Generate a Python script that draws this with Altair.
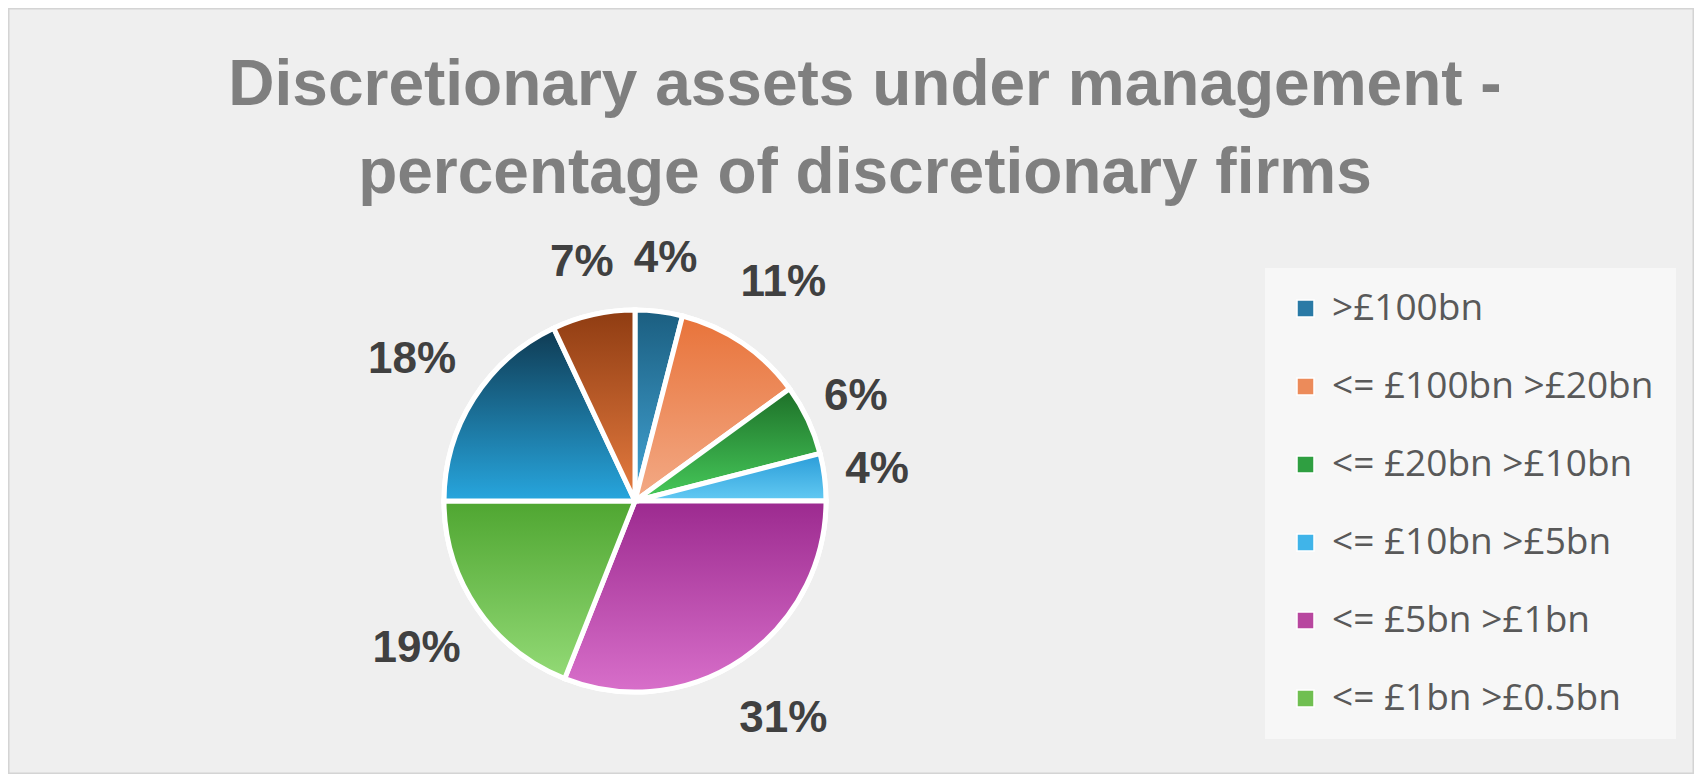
import altair as alt
import pandas as pd

# ---- data ----
categories = [">£100bn", "<= £100bn >£20bn", "<= £20bn >£10bn", "<= £10bn >£5bn",
              "<= £5bn >£1bn", "<= £1bn >£0.5bn", "<= £0.5bn >£0.1bn", "<= £0.1bn"]
shares = [4, 11, 6, 4, 31, 19, 18, 7]
labels = ["4%", "11%", "6%", "4%", "31%", "19%", "18%", "7%"]
legend_shown = categories[:6]
title_lines = ["Discretionary assets under management -", "percentage of discretionary firms"]

# ---- styling ----
solid_colors = ["#2a7aa6", "#ec8b5a", "#2f9f41", "#40b4e9", "#b8479f", "#70bf51", "#1c6e96", "#c25e2a"]
grad_top = ["#1b5e80", "#e8733a", "#1d6f28", "#2a9cd8", "#9c2a8f", "#4fa631", "#0f3a52", "#8f3c12"]
grad_bottom = ["#43a5d6", "#f3aa86", "#47cb5b", "#63caf3", "#d86fca", "#93da76", "#27a6de", "#e67c40"]

CX, CY = 627, 493


def grad(i):
    return {"gradient": "linear", "x1": 0, "y1": 0, "x2": 0, "y2": 1,
            "stops": [{"offset": 0, "color": grad_top[i]},
                      {"offset": 1, "color": grad_bottom[i]}]}


df = pd.DataFrame({"idx": list(range(len(categories))), "cat": categories,
                   "share": shares, "label": labels})

theta_scale = alt.Scale(domain=[0, 100], range=[0, 6.283185307179586])

base = alt.Chart(df).transform_window(
    cum="sum(share)", sort=[alt.SortField("idx")], frame=[None, 0]
).transform_calculate(
    start="datum.cum - datum.share",
    mid="datum.cum - datum.share / 2",
    lr="204 + 20 * length(datum.label)",
).encode(x=alt.value(CX), y=alt.value(CY))

solid = base.mark_arc(outerRadius=191, stroke="white", strokeWidth=5).encode(
    theta=alt.Theta("start:Q", scale=theta_scale),
    theta2="cum:Q",
    color=alt.Color(
        "cat:N",
        scale=alt.Scale(domain=categories, range=solid_colors),
        legend=alt.Legend(
            orient="none", legendX=1257, legendY=260, title=None,
            values=legend_shown, symbolType="square", symbolSize=289,
            symbolStrokeColor="white", symbolStrokeWidth=1.5, symbolOpacity=1,
            labelFont="Open Sans", labelFontSize=37, labelColor="#595959",
            labelLimit=600, labelOffset=8, rowPadding=40, padding=22,
            fillColor="#f7f7f7",
        ),
    ),
)

gradient = base.mark_arc(outerRadius=191, stroke="white", strokeWidth=5).encode(
    theta=alt.Theta("start:Q", scale=theta_scale),
    theta2="cum:Q",
    color=alt.ColorValue(
        value=grad(len(categories) - 1),
        condition=[{"test": f"datum.idx === {i}", "value": grad(i)}
                   for i in range(len(categories) - 1)],
    ),
)

text = base.mark_text(
    font="Liberation Sans", fontWeight="bold", fontSize=44, color="#404040",
    align="center", baseline="middle",
).encode(
    theta=alt.Theta("mid:Q", scale=theta_scale),
    radius=alt.Radius("lr:Q", scale=None),
    text="label:N",
)

title = alt.Chart(pd.DataFrame({"k": [0]})).mark_text(
    text=title_lines, lineHeight=88, font="Liberation Sans", fontWeight="bold",
    fontSize=64, color="#7f7f7f", align="center", baseline="alphabetic",
).encode(x=alt.value(857), y=alt.value(97))

chart = alt.layer(solid, gradient, text, title).properties(
    width=1686, height=766, autosize=alt.AutoSizeParams(type="none"), padding=0,
).configure(background="#efefef").configure_view(stroke="#d4d4d4", strokeWidth=3)

chart.save("out.html", embed_options={"renderer": "svg", "actions": False})
